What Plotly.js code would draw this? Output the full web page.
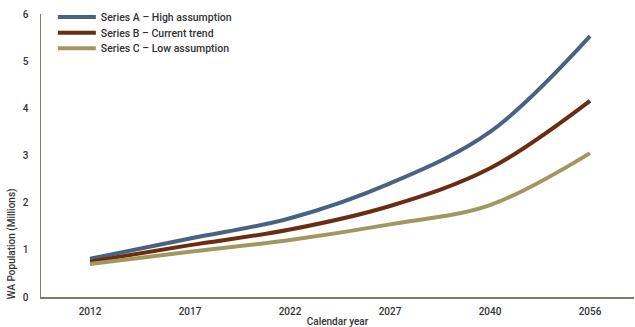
<!DOCTYPE html>
<html>
<head>
<meta charset="utf-8">
<script src="https://cdn.plot.ly/plotly-3.0.1.min.js"></script>
<style>
  html, body { margin: 0; padding: 0; background: #fff; }
  #chart { width: 635px; height: 327px; }
</style>
</head>
<body>
<div id="chart"></div>
<script>
// WA population projections (millions) by calendar year
const years = ['2012', '2017', '2022', '2027', '2040', '2056'];
const seriesA = [0.81, 1.24, 1.67, 2.41, 3.50, 5.53];
const seriesB = [0.75, 1.10, 1.43, 1.93, 2.73, 4.16];
const seriesC = [0.70, 0.96, 1.21, 1.54, 1.95, 3.05];
const names = ['Series A \u2013 High assumption', 'Series B \u2013 Current trend', 'Series C \u2013 Low assumption'];
const colors = ['#4a6282', '#6b2d12', '#a29761'];
const yTicks = [0, 1, 2, 3, 4, 5, 6];

const font = { family: 'Roboto, "DejaVu Sans", sans-serif', size: 10, color: '#333', weight: 500 };
const legendIds = ['legend', 'legend2', 'legend3'];
const legendRowY = [0.989, 0.934, 0.879];

const traces = [seriesA, seriesB, seriesC].map((vals, i) => ({
  type: 'scatter',
  mode: 'lines',
  x: years,
  y: vals,
  name: names[i],
  legend: legendIds[i],
  line: { color: colors[i], width: 4, shape: 'spline', smoothing: 1 }
}));

const layout = {
  width: 635,
  height: 327,
  margin: { l: 41, r: 1, t: 14, b: 30 },
  paper_bgcolor: '#fff',
  plot_bgcolor: '#fff',
  font: font,
  showlegend: true,
  xaxis: {
    type: 'category',
    range: [-0.49, 5.44],
    showgrid: false,
    zeroline: false,
    showline: true,
    linecolor: '#857a6e',
    linewidth: 1.5,
    ticks: 'outside',
    ticklen: 4,
    tickcolor: 'rgba(0,0,0,0)',
    tickfont: font,
    title: { text: 'Calendar year', font: font, standoff: 2 }
  },
  yaxis: {
    range: [0, 6],
    tickvals: yTicks,
    ticktext: yTicks.map(String),
    showgrid: false,
    zeroline: false,
    showline: true,
    linecolor: '#857a6e',
    linewidth: 1.5,
    ticks: 'outside',
    ticklen: 9,
    tickcolor: 'rgba(0,0,0,0)',
    tickfont: font
  },
  annotations: [{
    text: 'WA Population (Millions)',
    xref: 'paper', yref: 'paper',
    x: -0.049, y: 0.19,
    xanchor: 'center', yanchor: 'middle',
    textangle: -90,
    showarrow: false,
    font: font
  }]
};

// one legend per series so the rows sit tightly stacked
legendIds.forEach((id, i) => {
  layout[id] = {
    x: 0.02, y: legendRowY[i], xanchor: 'left', yanchor: 'middle',
    bgcolor: 'rgba(0,0,0,0)',
    itemwidth: 38,
    font: { family: font.family, size: 10.5, color: '#333', weight: 500 }
  };
});

Plotly.newPlot('chart', traces, layout, { displayModeBar: false, staticPlot: true });
</script>
</body>
</html>
